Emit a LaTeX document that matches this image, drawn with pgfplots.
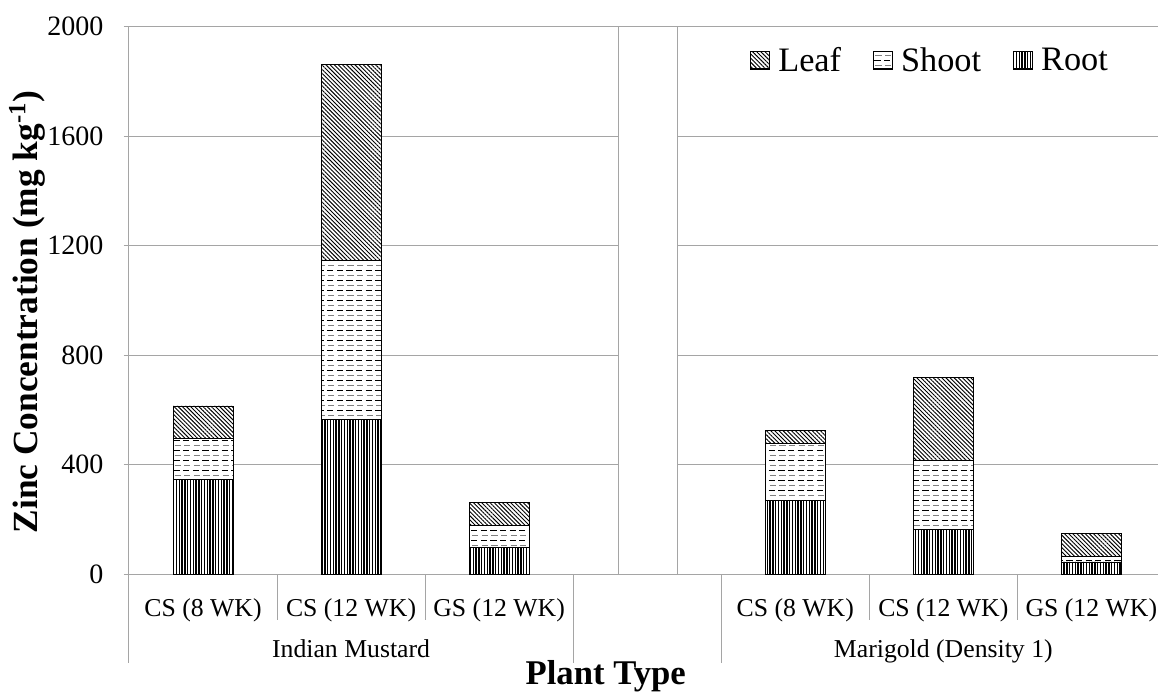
\documentclass[border=0pt]{standalone}
\usepackage{pgfplots}
\pgfplotsset{compat=1.18}
\usepackage{fontspec}
\setmainfont{Liberation Serif}
\usetikzlibrary{patterns,patterns.meta,calc}

\definecolor{gridgray}{RGB}{165,165,165}

\pgfdeclarepatterninherentlycolored{shootdash}
{\pgfpoint{-0.1pt}{-0.1pt}}{\pgfpoint{7.3pt}{7.6pt}}{\pgfpoint{7.2pt}{7.5pt}}
{
 \pgfsetlinewidth{0.8pt}
 \pgfsetstrokecolor{black}
 \pgfpathmoveto{\pgfpoint{0.6pt}{1.9pt}}\pgfpathlineto{\pgfpoint{5.2pt}{1.9pt}}\pgfusepath{stroke}
 \pgfsetstrokecolor{gray}
 \pgfpathmoveto{\pgfpoint{1.4pt}{5.6pt}}\pgfpathlineto{\pgfpoint{6.0pt}{5.6pt}}\pgfusepath{stroke}
}

\begin{document}
\begin{tikzpicture}
\begin{axis}[
  scale only axis, width=771.75pt, height=410.625pt,
  xmin=-0.5, xmax=6.45, ymin=0, ymax=2000,
  clip=false,
  ybar stacked, bar width=45pt,
  ytick={0,400,...,2000},
  xtick={0,1,2,4,5,6},
  xticklabels={CS (8 WK),CS (12 WK),GS (12 WK),CS (8 WK),CS (12 WK),GS (12 WK)},
  x tick style={draw=none},
  ymajorgrids, grid style={gridgray, line width=0.75pt},
  axis x line*=bottom, axis y line*=left,
  axis line style={gridgray, line width=0.75pt, -},
  y tick style={gridgray, line width=0.75pt},
  tick align=outside, major tick length=4pt,
  /pgf/number format/assume math mode=true,
  /pgf/number format/1000 sep={},
  yticklabel style={font=\fontsize{21}{25}\selectfont, inner sep=0pt, xshift=-15pt},
  xticklabel style={font=\fontsize{19.3}{23}\selectfont, anchor=base, inner sep=0pt, yshift=-28pt},
  ylabel={Zinc Concentration (mg kg\textsuperscript{-1})},
  ylabel style={font=\fontsize{26.5}{30}\selectfont\bfseries, at={(axis description cs:-0.0991,0.4785)}, anchor=center},
  legend style={draw=none, fill=none, at={(0.958,0.972)}, anchor=north east,
    font=\fontsize{25.7}{30}\selectfont,
    /tikz/every even column/.append style={column sep=22pt}},
  legend columns=-1,
  reverse legend,
  legend image code/.code={\draw[#1, draw=black, line width=0.5pt] (0pt,-6.3pt) rectangle (14pt,6.5pt); \path (18.5pt,0pt);},
]
\addplot[draw=black, line width=0.6pt, preaction={fill=white}, pattern={Lines[angle=90,distance=2.1pt,line width=1.05pt]}]
  coordinates {(0,347) (1,563) (2,96) (4,270) (5,163) (6,44)};
\addlegendentry{Root}
\addplot[draw=black, line width=0.6pt, preaction={fill=white}, pattern=shootdash]
  coordinates {(0,149) (1,584) (2,82) (4,207) (5,253) (6,19)};
\addlegendentry{Shoot}
\addplot[draw=black, line width=0.6pt, preaction={fill=white}, pattern={Lines[angle=-45,distance=2.2pt,line width=0.7pt]}]
  coordinates {(0,118) (1,716) (2,85) (4,46) (5,302) (6,86)};
\addlegendentry{Leaf}

\filldraw[fill=white, draw=gridgray, line width=0.75pt] (axis cs:2.804,0) rectangle (axis cs:3.203,2000);

\draw[gridgray, line width=0.75pt] (axis cs:0.5,0) -- ++(0pt,-34.5pt);
\draw[gridgray, line width=0.75pt] (axis cs:1.5,0) -- ++(0pt,-34.5pt);
\draw[gridgray, line width=0.75pt] (axis cs:4.5,0) -- ++(0pt,-34.5pt);
\draw[gridgray, line width=0.75pt] (axis cs:5.5,0) -- ++(0pt,-34.5pt);
\draw[gridgray, line width=0.75pt] (axis cs:-0.5,0) -- ++(0pt,-66.75pt);
\draw[gridgray, line width=0.75pt] (axis cs:2.5,0) -- ++(0pt,-66.75pt);
\draw[gridgray, line width=0.75pt] (axis cs:3.5,0) -- ++(0pt,-66.75pt);
\node[font=\fontsize{19.3}{23}\selectfont, anchor=base, inner sep=0pt, yshift=-62.25pt] at (axis cs:1,0) {Indian Mustard};
\node[font=\fontsize{19.3}{23}\selectfont, anchor=base, inner sep=0pt, yshift=-62.25pt] at (axis cs:5,0) {Marigold (Density 1)};
\node[font=\fontsize{26pt}{30}\selectfont\bfseries, anchor=base, inner sep=0pt, yshift=-82.5pt] at (axis cs:2.72,0) {Plant Type};
\end{axis}
\pgfresetboundingbox
\path[use as bounding box] ($(current axis.south west)+(-96.75pt,-89.25pt)$) rectangle ($(current axis.north east)+(0pt,19.875pt)$);
\end{tikzpicture}
\end{document}
